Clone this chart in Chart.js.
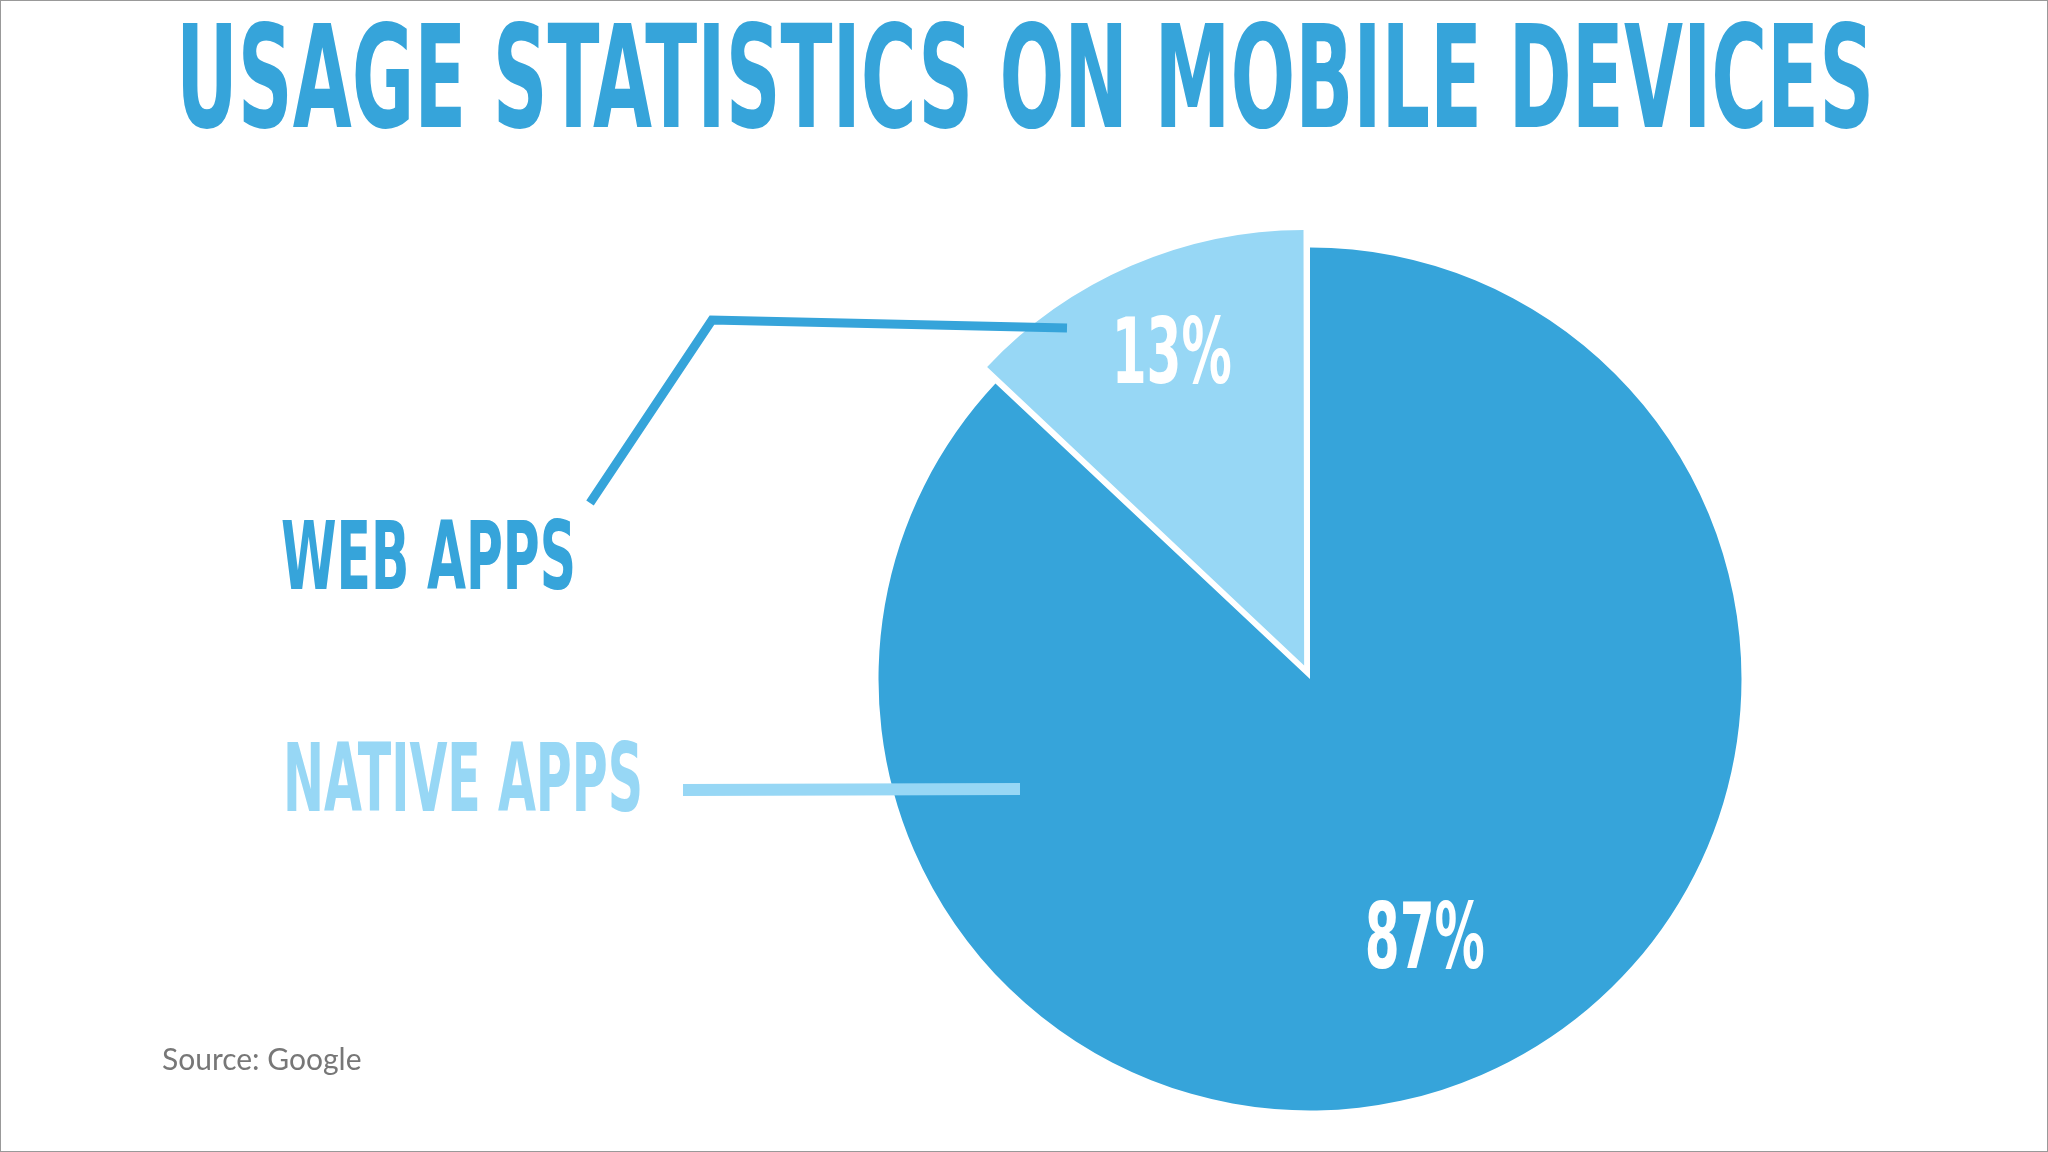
<!DOCTYPE html>
<html><head><meta charset="utf-8">
<script src="https://cdn.jsdelivr.net/npm/chart.js@4/dist/chart.umd.min.js"></script>
<style>
html,body{margin:0;padding:0;background:#fff;width:2048px;height:1152px;overflow:hidden;}
#frame{position:absolute;left:0;top:0;width:2046px;height:1150px;border:1px solid #999;}
canvas{position:absolute;left:0;top:0;}
.t{position:absolute;font-family:"DejaVu Sans Condensed","DejaVu Sans";font-weight:bold;white-space:nowrap;transform-origin:0 0;line-height:1;}
#title{color:#36A4DA;font-size:142px;left:176px;top:7px;}
#web{color:#36A4DA;font-size:94px;left:281px;top:510px;}
#nat{color:#97D7F5;font-size:94px;left:283px;top:732px;}
#src{position:absolute;left:162px;top:1040px;font-family:Lato,"Open Sans";font-size:30px;color:#777;}
</style></head><body>
<div id="frame"></div>
<canvas id="c" width="2048" height="1152"></canvas>
<div class="t" id="title" data-w="1698">USAGE STATISTICS ON MOBILE DEVICES</div>
<div class="t" id="web" data-w="295">WEB APPS</div>
<div class="t" id="nat" data-w="360">NATIVE APPS</div>
<div id="src">Source: Google</div>
<script>
const categories = ["Native Apps", "Web Apps"];
const values = [87, 13];
const colors = ["#36A4DA", "#97D7F5"];

document.querySelectorAll('.t').forEach(el=>{
  const w = el.getBoundingClientRect().width;
  el.style.transform = 'scaleX(' + (parseFloat(el.dataset.w)/w) + ')';
});

const annot = {
  id:'annot',
  afterDraw(chart){
    const ctx = chart.ctx;
    ctx.save();
    ctx.lineCap='butt'; ctx.lineJoin='miter';
    ctx.strokeStyle='#36A4DA'; ctx.lineWidth=9;
    ctx.beginPath(); ctx.moveTo(590,503); ctx.lineTo(712,320); ctx.lineTo(1067,328); ctx.stroke();
    ctx.strokeStyle='#97D7F5'; ctx.lineWidth=12;
    ctx.beginPath(); ctx.moveTo(683,790); ctx.lineTo(1020,789); ctx.stroke();
    const meta = chart.getDatasetMeta(0);
    meta.data.forEach((arc,i)=>{
      const p = arc.getProps(['x','y','startAngle','endAngle','outerRadius'],true);
      const mid=(p.startAngle+p.endAngle)/2;
      const off = chart.data.datasets[0].offset[i]||0;
      const r = p.outerRadius*0.67 + off;
      const x = p.x + Math.cos(mid)*r, y = p.y + Math.sin(mid)*r;
      ctx.save();
      ctx.translate(x,y); ctx.scale(0.62,1);
      ctx.fillStyle='#fff';
      ctx.font='bold 90px "DejaVu Sans Condensed","DejaVu Sans"';
      ctx.textAlign='center'; ctx.textBaseline='middle';
      ctx.fillText(values[i]+'%',0,0);
      ctx.restore();
    });
    ctx.restore();
  }
};

new Chart(document.getElementById('c'),{
  type:'pie',
  data:{labels:categories,datasets:[{data:values,backgroundColor:colors,borderWidth:0,offset:[0,59]}]},
  options:{
    responsive:false,animation:false,
    layout:{padding:{left:849,right:277,top:218,bottom:12}},
    plugins:{legend:{display:false},tooltip:{enabled:false}}
  },
  plugins:[annot]
});
</script>
</body></html>
